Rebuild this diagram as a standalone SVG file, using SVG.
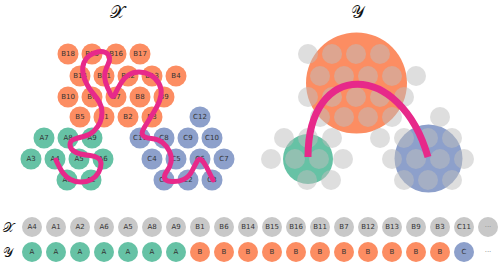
<svg xmlns="http://www.w3.org/2000/svg" width="499" height="262" viewBox="0 0 499 262">
<style>
.b{fill:#fc8d62}.a{fill:#66c2a5}.c{fill:#8da0cb}.g{fill:#c8c8c8}
.gr{fill:#bebebe;fill-opacity:0.5}
text{font-family:"DejaVu Sans",sans-serif;font-size:7px;fill:#333;text-anchor:middle;dominant-baseline:central}
.t{font-family:"DejaVu Serif","DejaVu Sans","Noto Sans",serif;font-size:17px;fill:#111}
.curve{fill:none;stroke:#e7298a;stroke-linecap:round;stroke-linejoin:round}
</style>
<rect width="499" height="262" fill="#fff"/>
<text class="t" x="117" y="12">𝒳</text>
<text class="t" x="357" y="12">𝒴</text>

<g id="nodes-x">
<g id="B18"><circle class="b" cx="68" cy="54" r="10.5"/><text x="68" y="54">B18</text></g>
<g id="B15"><circle class="b" cx="92" cy="54" r="10.5"/><text x="92" y="54">B15</text></g>
<g id="B16"><circle class="b" cx="116" cy="54" r="10.5"/><text x="116" y="54">B16</text></g>
<g id="B17"><circle class="b" cx="140" cy="54" r="10.5"/><text x="140" y="54">B17</text></g>
<g id="B14"><circle class="b" cx="80" cy="76" r="10.5"/><text x="80" y="76">B14</text></g>
<g id="B11"><circle class="b" cx="104" cy="76" r="10.5"/><text x="104" y="76">B11</text></g>
<g id="B12"><circle class="b" cx="128" cy="76" r="10.5"/><text x="128" y="76">B12</text></g>
<g id="B13"><circle class="b" cx="152" cy="76" r="10.5"/><text x="152" y="76">B13</text></g>
<g id="B4"><circle class="b" cx="176" cy="76" r="10.5"/><text x="176" y="76">B4</text></g>
<g id="B10"><circle class="b" cx="68" cy="97" r="10.5"/><text x="68" y="97">B10</text></g>
<g id="B6"><circle class="b" cx="92" cy="97" r="10.5"/><text x="92" y="97">B6</text></g>
<g id="B7"><circle class="b" cx="116" cy="97" r="10.5"/><text x="116" y="97">B7</text></g>
<g id="B8"><circle class="b" cx="140" cy="97" r="10.5"/><text x="140" y="97">B8</text></g>
<g id="B9"><circle class="b" cx="164" cy="97" r="10.5"/><text x="164" y="97">B9</text></g>
<g id="B5"><circle class="b" cx="80" cy="117" r="10.5"/><text x="80" y="117">B5</text></g>
<g id="B1"><circle class="b" cx="104" cy="117" r="10.5"/><text x="104" y="117">B1</text></g>
<g id="B2"><circle class="b" cx="128" cy="117" r="10.5"/><text x="128" y="117">B2</text></g>
<g id="B3"><circle class="b" cx="152" cy="117" r="10.5"/><text x="152" y="117">B3</text></g>
<g id="C12"><circle class="c" cx="200" cy="117" r="10.5"/><text x="200" y="117">C12</text></g>
<g id="A7"><circle class="a" cx="44" cy="138" r="10.5"/><text x="44" y="138">A7</text></g>
<g id="A8"><circle class="a" cx="68" cy="138" r="10.5"/><text x="68" y="138">A8</text></g>
<g id="A9"><circle class="a" cx="92" cy="138" r="10.5"/><text x="92" y="138">A9</text></g>
<g id="C11"><circle class="c" cx="140" cy="138" r="10.5"/><text x="140" y="138">C11</text></g>
<g id="C8"><circle class="c" cx="164" cy="138" r="10.5"/><text x="164" y="138">C8</text></g>
<g id="C9"><circle class="c" cx="188" cy="138" r="10.5"/><text x="188" y="138">C9</text></g>
<g id="C10"><circle class="c" cx="212" cy="138" r="10.5"/><text x="212" y="138">C10</text></g>
<g id="A3"><circle class="a" cx="31" cy="159" r="10.5"/><text x="31" y="159">A3</text></g>
<g id="A4"><circle class="a" cx="55" cy="159" r="10.5"/><text x="55" y="159">A4</text></g>
<g id="A5"><circle class="a" cx="79" cy="159" r="10.5"/><text x="79" y="159">A5</text></g>
<g id="A6"><circle class="a" cx="103" cy="159" r="10.5"/><text x="103" y="159">A6</text></g>
<g id="C4"><circle class="c" cx="152" cy="159" r="10.5"/><text x="152" y="159">C4</text></g>
<g id="C5"><circle class="c" cx="176" cy="159" r="10.5"/><text x="176" y="159">C5</text></g>
<g id="C6"><circle class="c" cx="200" cy="159" r="10.5"/><text x="200" y="159">C6</text></g>
<g id="C7"><circle class="c" cx="224" cy="159" r="10.5"/><text x="224" y="159">C7</text></g>
<g id="A1"><circle class="a" cx="67" cy="180" r="10.5"/><text x="67" y="180">A1</text></g>
<g id="A2"><circle class="a" cx="91" cy="180" r="10.5"/><text x="91" y="180">A2</text></g>
<g id="C1"><circle class="c" cx="164" cy="180" r="10.5"/><text x="164" y="180">C1</text></g>
<g id="C2"><circle class="c" cx="188" cy="180" r="10.5"/><text x="188" y="180">C2</text></g>
<g id="C3"><circle class="c" cx="212" cy="180" r="10.5"/><text x="212" y="180">C3</text></g>
</g>

<g id="nodes-y">
<g id="Y-B"><circle class="b" cx="356.5" cy="83" r="50.5"/></g>
<g id="Y-A"><circle class="a" cx="308" cy="159" r="25"/></g>
<g id="Y-C"><circle class="c" cx="428.5" cy="158.5" r="34"/></g>
<g id="Y-points" class="gr">
<circle cx="308" cy="54" r="10"/><circle cx="332" cy="54" r="10"/><circle cx="356" cy="54" r="10"/><circle cx="380" cy="54" r="10"/>
<circle cx="320" cy="76" r="10"/><circle cx="344" cy="76" r="10"/><circle cx="368" cy="76" r="10"/><circle cx="392" cy="76" r="10"/><circle cx="416" cy="76" r="10"/>
<circle cx="308" cy="97" r="10"/><circle cx="332" cy="97" r="10"/><circle cx="356" cy="97" r="10"/><circle cx="380" cy="97" r="10"/><circle cx="404" cy="97" r="10"/>
<circle cx="320" cy="117" r="10"/><circle cx="344" cy="117" r="10"/><circle cx="368" cy="117" r="10"/><circle cx="392" cy="117" r="10"/>
<circle cx="440" cy="117" r="10"/>
<circle cx="284" cy="138" r="10"/><circle cx="308" cy="138" r="10"/><circle cx="332" cy="138" r="10"/>
<circle cx="380" cy="138" r="10"/><circle cx="404" cy="138" r="10"/><circle cx="428" cy="138" r="10"/><circle cx="452" cy="138" r="10"/>
<circle cx="271" cy="159" r="10"/><circle cx="295" cy="159" r="10"/><circle cx="319" cy="159" r="10"/><circle cx="343" cy="159" r="10"/>
<circle cx="392" cy="159" r="10"/><circle cx="416" cy="159" r="10"/><circle cx="440" cy="159" r="10"/><circle cx="464" cy="159" r="10"/>
<circle cx="307" cy="180" r="10"/><circle cx="331" cy="180" r="10"/>
<circle cx="404" cy="180" r="10"/><circle cx="428" cy="180" r="10"/><circle cx="452" cy="180" r="10"/>
</g>
</g>

<g id="connectors">
<path class="curve" stroke-width="5" d="M56 160 Q60 169 63 173 Q66 177 70.5 179.5 Q75 182 81 182 Q87 182 91.5 179.5 Q96 177 98.5 172.5 Q101 168 101 164 Q101 160 98 158 Q95 156 90 155.5 Q85 155 80.5 154 Q76 153 73 150.5 Q70 148 70 144.5 Q70 141 73.5 139.5 Q77 138 83.5 136.5 Q90 135 94 131 Q98 127 100 122.5 Q102 118 102 112.5 Q102 107 99.5 102.5 Q97 98 93.5 94 Q90 90 87 84.5 Q84 79 83 73 Q82 67 84 62.5 Q86 58 89.5 55.5 Q93 53 97.5 52 Q102 51 105.5 52.5 Q109 54 109.5 57.5 Q110 61 108 64.5 Q106 68 105 72.5 Q104 77 105.5 82 Q107 87 110 93 Q113 100 115.5 93 Q118 88 121 83 Q124 78 128.5 75 Q133 72 139 72 Q145 72 150.5 75 Q156 78 159 83.5 Q162 89 161 95 Q160 101 157 106.5 Q154 112 150.5 117.5 Q147 123 144 128 Q141 133 143 135.5 Q145 138 151.5 138.5 Q158 139 162.5 142.5 Q167 146 169.5 151.5 Q172 157 171 162 Q170 167 167 171 Q164 175 164.5 178 Q165 181 171.5 181.5 Q178 182 183.5 179.5 Q189 177 192 171 Q195 165 197 161.5 Q199 158 201.5 160 Q204 162 206.5 167 Q209 172 213 180"/>
<path class="curve" stroke-width="7" style="stroke-linecap:butt" d="M308 157 C308 60 400 60 428 157"/>
</g>

<g id="sequence">
<text class="t" x="8" y="227" style="font-size:13px">𝒳</text>
<text class="t" x="8" y="252" style="font-size:13px">𝒴</text>
<g id="seq-x">
<g id="sx0"><circle class="g" cx="32" cy="227" r="10"/><text x="32" y="227">A4</text></g>
<g id="sx1"><circle class="g" cx="56" cy="227" r="10"/><text x="56" y="227">A1</text></g>
<g id="sx2"><circle class="g" cx="80" cy="227" r="10"/><text x="80" y="227">A2</text></g>
<g id="sx3"><circle class="g" cx="104" cy="227" r="10"/><text x="104" y="227">A6</text></g>
<g id="sx4"><circle class="g" cx="128" cy="227" r="10"/><text x="128" y="227">A5</text></g>
<g id="sx5"><circle class="g" cx="152" cy="227" r="10"/><text x="152" y="227">A8</text></g>
<g id="sx6"><circle class="g" cx="176" cy="227" r="10"/><text x="176" y="227">A9</text></g>
<g id="sx7"><circle class="g" cx="200" cy="227" r="10"/><text x="200" y="227">B1</text></g>
<g id="sx8"><circle class="g" cx="224" cy="227" r="10"/><text x="224" y="227">B6</text></g>
<g id="sx9"><circle class="g" cx="248" cy="227" r="10"/><text x="248" y="227">B14</text></g>
<g id="sx10"><circle class="g" cx="272" cy="227" r="10"/><text x="272" y="227">B15</text></g>
<g id="sx11"><circle class="g" cx="296" cy="227" r="10"/><text x="296" y="227">B16</text></g>
<g id="sx12"><circle class="g" cx="320" cy="227" r="10"/><text x="320" y="227">B11</text></g>
<g id="sx13"><circle class="g" cx="344" cy="227" r="10"/><text x="344" y="227">B7</text></g>
<g id="sx14"><circle class="g" cx="368" cy="227" r="10"/><text x="368" y="227">B12</text></g>
<g id="sx15"><circle class="g" cx="392" cy="227" r="10"/><text x="392" y="227">B13</text></g>
<g id="sx16"><circle class="g" cx="416" cy="227" r="10"/><text x="416" y="227">B9</text></g>
<g id="sx17"><circle class="g" cx="440" cy="227" r="10"/><text x="440" y="227">B3</text></g>
<g id="sx18"><circle class="g" cx="464" cy="227" r="10"/><text x="464" y="227">C11</text></g>
<g id="sx19"><circle class="g" cx="488" cy="227" r="10"/><text x="488" y="227" style="fill:#888">···</text></g>
</g>
<g id="seq-y">
<g id="sy0"><circle class="a" cx="32" cy="252" r="10"/><text x="32" y="252">A</text></g>
<g id="sy1"><circle class="a" cx="56" cy="252" r="10"/><text x="56" y="252">A</text></g>
<g id="sy2"><circle class="a" cx="80" cy="252" r="10"/><text x="80" y="252">A</text></g>
<g id="sy3"><circle class="a" cx="104" cy="252" r="10"/><text x="104" y="252">A</text></g>
<g id="sy4"><circle class="a" cx="128" cy="252" r="10"/><text x="128" y="252">A</text></g>
<g id="sy5"><circle class="a" cx="152" cy="252" r="10"/><text x="152" y="252">A</text></g>
<g id="sy6"><circle class="a" cx="176" cy="252" r="10"/><text x="176" y="252">A</text></g>
<g id="sy7"><circle class="b" cx="200" cy="252" r="10"/><text x="200" y="252">B</text></g>
<g id="sy8"><circle class="b" cx="224" cy="252" r="10"/><text x="224" y="252">B</text></g>
<g id="sy9"><circle class="b" cx="248" cy="252" r="10"/><text x="248" y="252">B</text></g>
<g id="sy10"><circle class="b" cx="272" cy="252" r="10"/><text x="272" y="252">B</text></g>
<g id="sy11"><circle class="b" cx="296" cy="252" r="10"/><text x="296" y="252">B</text></g>
<g id="sy12"><circle class="b" cx="320" cy="252" r="10"/><text x="320" y="252">B</text></g>
<g id="sy13"><circle class="b" cx="344" cy="252" r="10"/><text x="344" y="252">B</text></g>
<g id="sy14"><circle class="b" cx="368" cy="252" r="10"/><text x="368" y="252">B</text></g>
<g id="sy15"><circle class="b" cx="392" cy="252" r="10"/><text x="392" y="252">B</text></g>
<g id="sy16"><circle class="b" cx="416" cy="252" r="10"/><text x="416" y="252">B</text></g>
<g id="sy17"><circle class="b" cx="440" cy="252" r="10"/><text x="440" y="252">B</text></g>
<g id="sy18"><circle class="c" cx="464" cy="252" r="10"/><text x="464" y="252">C</text></g>
<g id="sy19"><text x="488" y="252" style="fill:#888">···</text></g>
</g>
</g>
</svg>
